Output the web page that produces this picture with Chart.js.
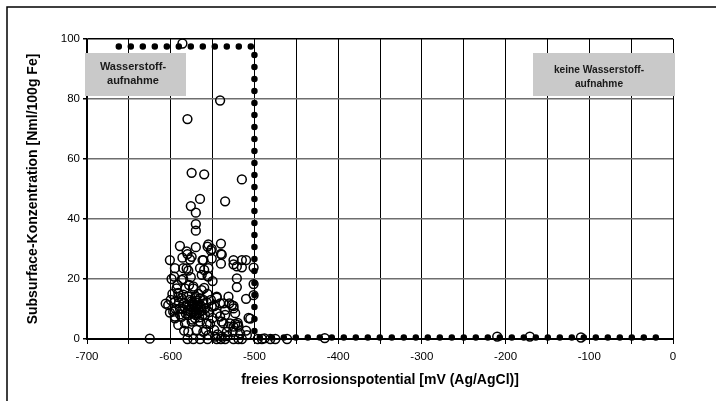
<!DOCTYPE html>
<html>
<head>
<meta charset="utf-8">
<script src="https://cdn.jsdelivr.net/npm/chart.js@4"></script>
<style>
  html, body { margin: 0; padding: 0; background: #fff; }
  #wrap { width: 716px; height: 401px; position: relative; }
</style>
</head>
<body>
<div id="wrap"><canvas id="chart" width="716" height="401"></canvas></div>
<script>
// Achsen
const xMin = -700, xMax = 0, xStep = 50, xLabelStep = 100;
const yMin = 0, yMax = 100, yStep = 20;
const xTitel = 'freies Korrosionspotential [mV (Ag/AgCl)]';
const yTitel = 'Subsurface-Konzentration [Nml/100g Fe]';

// Grenzlinie (gepunktet): Eckpunkte
const grenzeX = [-662, -500, -500, -7];
const grenzeY = [97.5, 97.5, 0.5, 0.5];

// Beschriftungsfelder
const feldLinks = ['Wasserstoff-', 'aufnahme'];
const feldRechts = ['keine Wasserstoff-', 'aufnahme'];

// Messwerte [Potential mV, Konzentration]
const messpunkte = [
  [-586, 98.5], [-541, 79.5], [-580, 73.3], [-575, 55.4], [-560, 54.9], [-515, 53.2],
  [-565, 46.7], [-535, 45.9], [-576, 44.3], [-570, 42.1], [-570, 38.3], [-570, 36.1],
  [-589, 31], [-581, 29.2], [-580, 28.3], [-575, 27.4], [-577, 26.5], [-570, 30.6],
  [-556, 30.8], [-551, 30], [-540, 31.8], [-540, 28.4], [-540, 25.1], [-551, 26.8],
  [-561, 26.3], [-601, 26.3], [-595, 23.6], [-596, 20.8], [-581, 23.5], [-579, 22.8],
  [-565, 23.6], [-560, 23], [-555, 23.6], [-555, 20.8], [-525, 24.9], [-515, 23.9],
  [-510, 26.3], [-521, 20.2], [-521, 17.3], [-510, 13.4], [-501, 23.8], [-501, 18.3],
  [-501, 14.6], [-505, 6.8], [-510, 2.8], [-520, 5.4], [-525, 10.2], [-525, 11],
  [-530, 11.9], [-535, 9.7], [-541, 11.9], [-545, 13.8], [-550, 19.3], [-556, 21],
  [-541, 7.5], [-537, 5.2], [-531, 4.1], [-525, 4.1], [-520, 4.7], [-606, 11.8],
  [-601, 8.8], [-595, 7.5], [-591, 15.4], [-591, 14], [-625, 0.1], [-584, 2.8],
  [-539, 28.1], [-525, 26.3], [-586, 27.1], [-562, 26.3], [-585, 23.6], [-599, 20],
  [-587, 19.7], [-576, 20.6], [-563, 21.4], [-593, 16.9], [-583, 16.9], [-573, 16.9],
  [-563, 16.3], [-603, 11.3], [-595, 12.4], [-587, 13.6], [-579, 14.1], [-571, 13.6],
  [-561, 13], [-597, 9.1], [-589, 10.2], [-581, 11.3], [-575, 10.8], [-567, 11.3],
  [-559, 10.2], [-595, 6.9], [-587, 7.4], [-579, 8], [-569, 8.6], [-559, 8],
  [-591, 4.7], [-583, 5.2], [-575, 5.8], [-565, 5.8], [-557, 5.2], [-579, 2.4],
  [-569, 3], [-561, 2.4], [-545, 14.1], [-531, 14.1], [-537, 11.9], [-527, 11.3],
  [-551, 10.8], [-545, 8.6], [-535, 8], [-523, 8.6], [-539, 5.8], [-529, 5.2],
  [-519, 4.1], [-533, 2.4], [-526, 2.4], [-517, 1.9], [-509, 1.3], [-555, 1.3],
  [-547, 0.8], [-539, 0.8], [-572, 10], [-568, 12], [-566, 9], [-574, 12],
  [-570, 14], [-564, 11], [-576, 9], [-578, 11], [-571, 7], [-562, 8],
  [-567, 15], [-573, 17.5], [-584, 12], [-586, 10], [-582, 8.5], [-590, 12],
  [-594, 10], [-598, 15], [-600, 13], [-592, 18], [-585, 20], [-578, 18],
  [-560, 17], [-556, 15], [-552, 13], [-548, 11], [-550, 7], [-553, 5],
  [-558, 3], [-548, 3], [-544, 1.5], [-532, 1], [-569, 11], [-573, 9],
  [-577, 13], [-565, 13.5], [-580, 0], [-573, 0], [-565, 0], [-556, 0],
  [-545, 0], [-540, 0], [-535, 0], [-525, 0], [-519, 0], [-515, 0],
  [-496, 0], [-491, 0], [-481, 0], [-475, 0], [-461, 0], [-416, 0.3],
  [-210, 0.8], [-171, 0.8], [-110, 0.5], [-523, 5], [-507, 7], [-488, 0.2],
  [-555, 31.5], [-552, 29.5], [-521, 24.2], [-515, 26.3],
  [-571, 10.5], [-567, 9.8], [-575, 12.6], [-563, 9.4], [-577, 10], [-569, 12.8],
  [-573, 11.5], [-565, 10.6], [-579, 9.5], [-561, 11.8], [-583, 10.6], [-570, 8],
  [-566, 7.2], [-574, 6.5], [-557, 12.2], [-554, 9], [-589, 8.2], [-585, 14.8]
];

var grenzDaten = [];
for (var i = 0; i < grenzeX.length; i++) {
  grenzDaten.push({x: grenzeX[i], y: grenzeY[i]});
}
var punktDaten = messpunkte.map(function (p) { return {x: p[0], y: p[1]}; });

// Hintergrund und Rahmen (nur oben und links sichtbar)
const rahmenPlugin = {
  id: 'rahmen',
  beforeDraw: function (chart) {
    var ctx = chart.ctx;
    ctx.save();
    ctx.fillStyle = '#fff';
    ctx.fillRect(0, 0, chart.width, chart.height);
    ctx.strokeStyle = '#000';
    ctx.lineWidth = 1.5;
    ctx.beginPath();
    ctx.moveTo(7, 401);
    ctx.lineTo(7, 7);
    ctx.lineTo(716, 7);
    ctx.stroke();
    ctx.restore();
  }
};

// graue Beschriftungsfelder
const feldPlugin = {
  id: 'felder',
  beforeDatasetsDraw: function (chart) {
    var ctx = chart.ctx;
    function feld(x, y, w, h, zeilen, cx, y0, gr) {
      ctx.fillStyle = '#c9c9c9';
      ctx.fillRect(x, y, w, h);
      ctx.fillStyle = '#1a1a1a';
      ctx.font = 'bold ' + gr + 'px "Liberation Sans", Arial, sans-serif';
      ctx.textAlign = 'center';
      ctx.textBaseline = 'middle';
      zeilen.forEach(function (z, k) { ctx.fillText(z, cx, y0 + k * 14); });
    }
    ctx.save();
    feld(85, 53, 101, 43, feldLinks, 133, 67, 11);
    feld(533, 53, 142, 43, feldRechts, 599, 70, 10.2);
    ctx.restore();
  }
};

new Chart(document.getElementById('chart').getContext('2d'), {
  data: {
    datasets: [
      {
        type: 'scatter',
        label: 'Messwerte',
        data: punktDaten,
        pointStyle: 'circle',
        pointRadius: 4.4,
        pointBorderWidth: 1.5,
        borderColor: '#000',
        backgroundColor: 'rgba(0,0,0,0)',
        clip: false,
        order: 2
      },
      {
        type: 'line',
        label: 'Grenze',
        data: grenzDaten,
        borderColor: '#000',
        borderWidth: 6.5,
        borderDash: [0, 12],
        borderCapStyle: 'round',
        pointRadius: 0,
        fill: false,
        tension: 0,
        clip: false,
        order: 1
      }
    ]
  },
  options: {
    responsive: false,
    animation: false,
    layout: { padding: { left: 10, top: 39, right: 43, bottom: 10 } },
    plugins: { legend: { display: false }, tooltip: { enabled: false } },
    scales: {
      x: {
        type: 'linear',
        min: xMin, max: xMax,
        afterFit: function (s) { s.height = 52; },
        ticks: {
          stepSize: xStep,
          autoSkip: false,
          maxRotation: 0,
          padding: 6,
          color: '#000',
          font: { family: '"Liberation Sans", Arial, sans-serif', size: 11.5 },
          callback: function (v) { return v % xLabelStep === 0 ? v : ''; }
        },
        grid: { color: '#000', lineWidth: 1, tickLength: 5, tickColor: '#000' },
        border: { color: '#000', width: 2 },
        title: {
          display: true, text: xTitel, color: '#000',
          padding: { top: 0, bottom: 2 },
          font: { family: '"Liberation Sans", Arial, sans-serif', size: 14, weight: 'bold' }
        }
      },
      y: {
        type: 'linear',
        min: yMin, max: yMax,
        afterFit: function (s) { s.width = 77; },
        ticks: {
          stepSize: yStep,
          padding: 3,
          color: '#000',
          font: { family: '"Liberation Sans", Arial, sans-serif', size: 11.5 }
        },
        grid: {
          color: function (c) { return c.tick && c.tick.value === yMax ? '#000' : '#6e6e6e'; },
          lineWidth: 1.5,
          tickLength: 4,
          tickColor: '#000'
        },
        border: { color: '#000', width: 1.5 },
        title: {
          display: true, text: yTitel, color: '#000',
          padding: { top: 15, bottom: 0 },
          font: { family: '"Liberation Sans", Arial, sans-serif', size: 14, weight: 'bold' }
        }
      }
    }
  },
  plugins: [rahmenPlugin, feldPlugin]
});
</script>
</body>
</html>
